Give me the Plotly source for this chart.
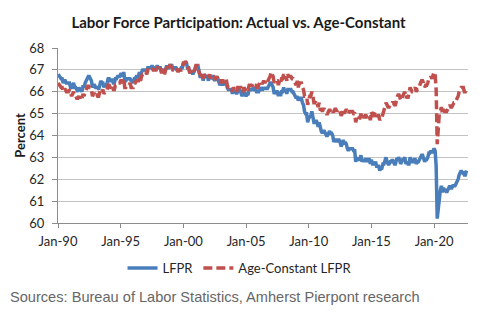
import plotly.graph_objects as go
import pandas as pd

# Monthly values, Jan-1990 .. Aug-2022
lfpr = [
    66.8, 66.7, 66.7, 66.6, 66.6, 66.4, 66.5, 66.5, 66.4, 66.4, 66.4, 66.4,  # 1990
    66.2, 66.2, 66.3, 66.4, 66.2, 66.2, 66.1, 66.0, 66.2, 66.1, 66.1, 66.0,  # 1991
    66.3, 66.2, 66.4, 66.5, 66.6, 66.7, 66.7, 66.6, 66.5, 66.2, 66.3, 66.3,  # 1992
    66.2, 66.2, 66.2, 66.1, 66.4, 66.5, 66.4, 66.4, 66.2, 66.3, 66.3, 66.4,  # 1993
    66.6, 66.6, 66.5, 66.5, 66.6, 66.4, 66.4, 66.6, 66.6, 66.7, 66.7, 66.7,  # 1994
    66.8, 66.8, 66.7, 66.9, 66.5, 66.5, 66.6, 66.6, 66.6, 66.6, 66.5, 66.5,  # 1995
    66.4, 66.6, 66.6, 66.7, 66.7, 66.7, 66.9, 66.7, 66.9, 67.0, 67.0, 67.0,  # 1996
    67.0, 66.9, 67.1, 67.1, 67.1, 67.1, 67.2, 67.1, 67.1, 67.1, 67.1, 67.2,  # 1997
    67.1, 67.1, 67.1, 66.9, 67.0, 67.0, 66.9, 67.0, 67.2, 67.1, 67.1, 67.2,  # 1998
    67.2, 67.2, 67.0, 67.1, 67.1, 67.1, 67.0, 67.0, 67.0, 67.0, 67.1, 67.1,  # 1999
    67.3, 67.3, 67.3, 67.3, 67.1, 67.1, 66.9, 66.9, 66.9, 66.8, 66.9, 67.0,  # 2000
    67.2, 67.1, 67.2, 66.9, 66.7, 66.7, 66.8, 66.5, 66.8, 66.7, 66.7, 66.7,  # 2001
    66.5, 66.8, 66.6, 66.7, 66.7, 66.6, 66.5, 66.6, 66.7, 66.6, 66.4, 66.3,  # 2002
    66.4, 66.4, 66.3, 66.4, 66.4, 66.5, 66.2, 66.1, 66.1, 66.1, 66.1, 65.9,  # 2003
    66.1, 66.0, 66.0, 65.9, 66.0, 66.1, 66.1, 66.0, 65.8, 65.9, 66.0, 65.9,  # 2004
    65.8, 65.9, 65.9, 66.1, 66.1, 66.1, 66.1, 66.2, 66.1, 66.1, 66.0, 66.0,  # 2005
    66.0, 66.1, 66.2, 66.1, 66.1, 66.2, 66.1, 66.2, 66.1, 66.2, 66.3, 66.4,  # 2006
    66.4, 66.3, 66.2, 65.9, 66.0, 66.0, 66.0, 65.8, 66.0, 65.8, 66.0, 66.0,  # 2007
    66.2, 66.0, 66.1, 65.9, 66.1, 66.1, 66.1, 66.1, 66.0, 66.0, 65.9, 65.8,  # 2008
    65.7, 65.8, 65.6, 65.7, 65.7, 65.7, 65.5, 65.4, 65.1, 65.0, 65.0, 64.6,  # 2009
    64.8, 64.9, 64.9, 65.1, 64.9, 64.6, 64.6, 64.7, 64.6, 64.4, 64.6, 64.3,  # 2010
    64.2, 64.1, 64.2, 64.2, 64.1, 64.0, 64.0, 64.1, 64.2, 64.1, 64.1, 64.0,  # 2011
    63.7, 63.8, 63.8, 63.7, 63.8, 63.8, 63.7, 63.5, 63.6, 63.8, 63.6, 63.7,  # 2012
    63.6, 63.4, 63.3, 63.4, 63.4, 63.4, 63.4, 63.3, 63.3, 62.8, 63.0, 62.9,  # 2013
    62.9, 62.9, 63.1, 62.8, 62.9, 62.8, 62.9, 62.9, 62.8, 62.9, 62.9, 62.7,  # 2014
    62.9, 62.7, 62.7, 62.7, 62.8, 62.6, 62.6, 62.6, 62.4, 62.5, 62.5, 62.7,  # 2015
    62.7, 62.9, 63.0, 62.8, 62.7, 62.7, 62.8, 62.8, 62.9, 62.8, 62.7, 62.7,  # 2016
    62.9, 62.9, 63.0, 62.9, 62.7, 62.8, 62.9, 62.9, 63.0, 62.7, 62.8, 62.7,  # 2017
    62.7, 63.0, 62.9, 62.8, 62.8, 62.9, 62.9, 62.7, 62.8, 62.8, 62.9, 63.0,  # 2018
    63.1, 63.1, 63.0, 62.8, 62.9, 62.9, 63.0, 63.2, 63.2, 63.3, 63.2, 63.3,  # 2019
    63.4, 63.3, 62.6, 60.2, 60.7, 61.4, 61.5, 61.7, 61.4, 61.6, 61.5, 61.5,  # 2020
    61.4, 61.5, 61.6, 61.7, 61.6, 61.6, 61.7, 61.7, 61.7, 61.8, 61.9, 62.0,  # 2021
    62.2, 62.3, 62.4, 62.3, 62.3, 62.2, 62.2, 62.4,                          # 2022
]

age_constant = [
    66.4, 66.3, 66.3, 66.2, 66.2, 66.0, 66.1, 66.1, 66.0, 66.0, 66.0, 66.1,  # 1990
    65.9, 65.8, 65.9, 66.0, 65.8, 65.8, 65.7, 65.7, 65.8, 65.7, 65.8, 65.7,  # 1991
    65.9, 65.8, 66.0, 66.1, 66.2, 66.3, 66.2, 66.2, 66.1, 65.8, 65.9, 65.9,  # 1992
    65.8, 65.9, 65.8, 65.8, 66.0, 66.1, 66.0, 66.1, 65.9, 66.0, 66.0, 66.1,  # 1993
    66.3, 66.3, 66.2, 66.2, 66.3, 66.1, 66.1, 66.3, 66.3, 66.4, 66.4, 66.4,  # 1994
    66.5, 66.5, 66.4, 66.6, 66.2, 66.2, 66.3, 66.3, 66.3, 66.4, 66.2, 66.2,  # 1995
    66.2, 66.4, 66.4, 66.5, 66.5, 66.5, 66.7, 66.5, 66.7, 66.8, 66.8, 66.8,  # 1996
    66.9, 66.8, 67.0, 67.0, 67.0, 67.0, 67.1, 67.0, 67.0, 67.0, 67.0, 67.1,  # 1997
    67.1, 67.0, 67.1, 66.9, 66.9, 67.0, 66.8, 67.0, 67.1, 67.1, 67.0, 67.2,  # 1998
    67.2, 67.1, 67.0, 67.0, 67.1, 67.1, 67.0, 66.9, 67.0, 67.0, 67.0, 67.1,  # 1999
    67.3, 67.3, 67.4, 67.3, 67.1, 67.1, 66.9, 66.9, 66.9, 66.8, 66.9, 67.0,  # 2000
    67.2, 67.2, 67.2, 66.9, 66.8, 66.7, 66.8, 66.6, 66.8, 66.7, 66.7, 66.7,  # 2001
    66.6, 66.8, 66.6, 66.7, 66.7, 66.7, 66.6, 66.6, 66.7, 66.6, 66.5, 66.4,  # 2002
    66.5, 66.5, 66.4, 66.5, 66.5, 66.6, 66.3, 66.2, 66.2, 66.2, 66.2, 66.0,  # 2003
    66.2, 66.1, 66.1, 66.0, 66.2, 66.2, 66.2, 66.2, 66.0, 66.0, 66.2, 66.1,  # 2004
    66.0, 66.1, 66.1, 66.3, 66.3, 66.3, 66.3, 66.4, 66.3, 66.3, 66.2, 66.2,  # 2005
    66.3, 66.4, 66.5, 66.4, 66.4, 66.5, 66.4, 66.5, 66.4, 66.5, 66.6, 66.7,  # 2006
    66.9, 66.8, 66.7, 66.4, 66.5, 66.5, 66.5, 66.3, 66.5, 66.4, 66.6, 66.6,  # 2007
    66.8, 66.6, 66.7, 66.5, 66.8, 66.7, 66.7, 66.7, 66.6, 66.6, 66.5, 66.4,  # 2008
    66.3, 66.5, 66.2, 66.4, 66.4, 66.4, 66.2, 66.1, 65.8, 65.8, 65.8, 65.4,  # 2009
    65.6, 65.8, 65.8, 66.0, 65.8, 65.5, 65.5, 65.6, 65.5, 65.3, 65.5, 65.2,  # 2010
    65.2, 65.1, 65.2, 65.2, 65.1, 65.0, 65.0, 65.1, 65.2, 65.1, 65.2, 65.1,  # 2011
    65.1, 65.2, 65.2, 65.1, 65.2, 65.2, 65.1, 64.9, 65.0, 65.2, 65.0, 65.1,  # 2012
    65.2, 65.1, 65.0, 65.1, 65.1, 65.1, 65.1, 65.0, 65.0, 64.6, 64.8, 64.7,  # 2013
    64.8, 64.8, 65.0, 64.8, 64.9, 64.8, 64.9, 64.9, 64.8, 64.9, 64.9, 64.7,  # 2014
    65.1, 64.9, 64.9, 65.0, 65.1, 64.9, 64.9, 64.9, 64.7, 64.8, 64.8, 65.0,  # 2015
    65.2, 65.4, 65.5, 65.4, 65.3, 65.3, 65.4, 65.4, 65.5, 65.5, 65.4, 65.4,  # 2016
    65.7, 65.8, 65.9, 65.8, 65.6, 65.7, 65.8, 65.9, 66.0, 65.7, 65.8, 65.7,  # 2017
    65.9, 66.2, 66.1, 66.0, 66.0, 66.1, 66.2, 66.0, 66.1, 66.1, 66.3, 66.4,  # 2018
    66.5, 66.5, 66.4, 66.2, 66.3, 66.3, 66.4, 66.6, 66.6, 66.7, 66.6, 66.8,  # 2019
    66.9, 66.8, 66.1, 63.6, 64.3, 65.0, 65.1, 65.3, 65.0, 65.2, 65.1, 65.1,  # 2020
    65.1, 65.2, 65.3, 65.4, 65.3, 65.3, 65.4, 65.5, 65.5, 65.6, 65.7, 65.8,  # 2021
    66.0, 66.1, 66.2, 66.2, 66.2, 66.0, 66.0, 66.1,                          # 2022
]

dates = pd.date_range("1990-01-01", periods=len(lfpr), freq="MS")

title_text = "Labor Force Participation: Actual vs. Age-Constant"
source_text = "Sources: Bureau of Labor Statistics, Amherst Pierpont research"
y_label = "Percent"

fig = go.Figure()
fig.add_trace(go.Scatter(
    x=dates, y=lfpr, mode="lines", name="LFPR",
    line=dict(color="#4a7ebb", width=3.5),
))
fig.add_trace(go.Scatter(
    x=dates, y=age_constant, mode="lines", name="Age-Constant LFPR",
    line=dict(color="#c0504d", width=3.5, dash="9px,4px"),
))

chart_font = "Lato, 'Open Sans', sans-serif"

fig.update_layout(
    width=499, height=321,
    margin=dict(l=58, r=31, t=48, b=98, autoexpand=False),
    paper_bgcolor="white", plot_bgcolor="white",
    font=dict(family=chart_font, size=13, color="#404040"),
    title=dict(
        text="<b>" + title_text + "</b>",
        xref="container", x=0.478, xanchor="center",
        yref="container", y=1 - 23 / 321, yanchor="middle",
        font=dict(family=chart_font, size=15, color="#1a1a1a"),
    ),
    showlegend=True,
    legend=dict(
        orientation="h", xref="container", x=0.48, xanchor="center",
        yref="container", y=1 - 268 / 321, yanchor="middle",
        font=dict(family=chart_font, size=13, color="#262626"),
        tracegroupgap=0,
    ),
    xaxis=dict(
        type="date", automargin=False,
        range=["1990-01-01", "2022-09-15"],
        tick0="1990-01-01", dtick="M60", tickformat="%b-%y",
        showgrid=False, showline=True, linecolor="#8c8c8c", linewidth=1,
        ticks="outside", ticklen=4, tickcolor="#8c8c8c",
        tickfont=dict(size=13, color="#262626"),
        ticklabelstandoff=2,
    ),
    yaxis=dict(
        range=[60, 68], dtick=1, automargin=False,
        showgrid=True, gridcolor="#c3c3c3", gridwidth=1,
        showline=True, linecolor="#8c8c8c", linewidth=1,
        ticks="outside", ticklen=5, tickcolor="#8c8c8c",
        tickfont=dict(size=13, color="#262626"),
        ticklabelstandoff=5,
        zeroline=False,
        title=dict(text="<b>" + y_label + "</b>", standoff=0,
                   font=dict(size=13, color="#1a1a1a")),
    ),
)

fig.add_annotation(
    text=source_text, xref="paper", yref="paper",
    x=(8 - 58) / 410, xanchor="left", y=(223 - 297) / 175, yanchor="middle",
    showarrow=False,
    font=dict(family="'Liberation Sans', Arial, sans-serif", size=14.6, color="#666666"),
)

fig.write_html("out.html")
